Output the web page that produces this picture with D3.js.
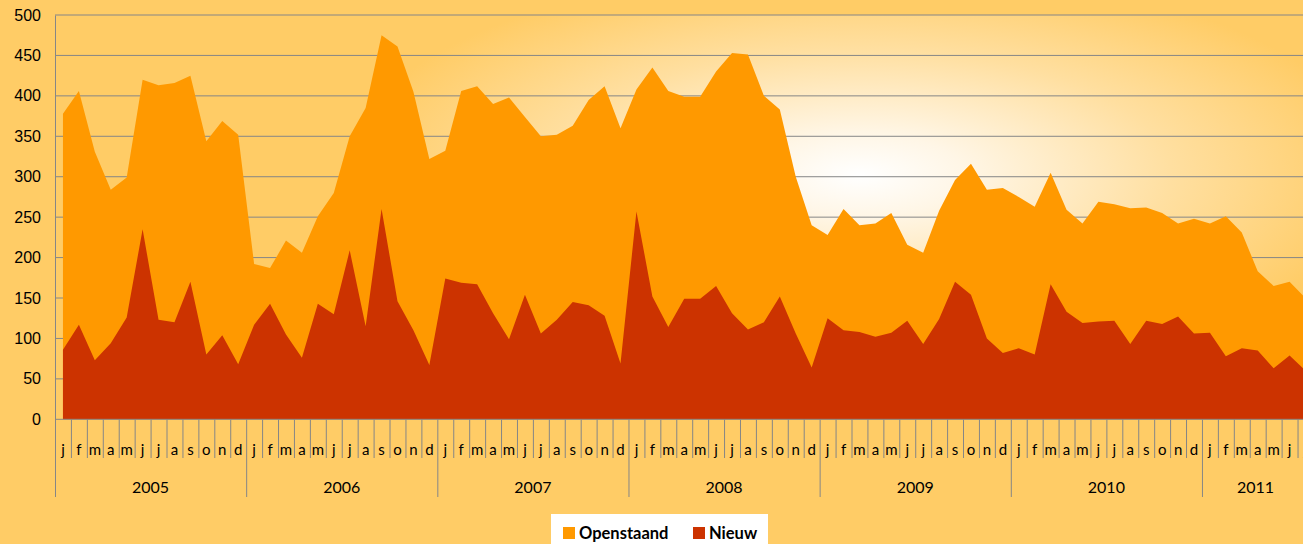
<!DOCTYPE html>
<html>
<head>
<meta charset="utf-8">
<script src="https://cdn.jsdelivr.net/npm/d3@7"></script>
<style>
  body { margin: 0; background: #FFCC66; overflow: hidden; }
  svg { display: block; font-family: Lato, "DejaVu Sans", sans-serif; }
</style>
</head>
<body>
<div id="chart"></div>
<script>
// data
const monthLetters = ["j","f","m","a","m","j","j","a","s","o","n","d"];
const years = ["2005","2006","2007","2008","2009","2010","2011"];
const yTicks = [0, 50, 100, 150, 200, 250, 300, 350, 400, 450, 500];

const openstaand = [
  378, 406, 331, 284, 299, 420, 413, 416, 425, 344, 369, 352,   // 2005
  192, 187, 221, 206, 251, 280, 350, 385, 475, 461, 405, 322,   // 2006
  332, 406, 412, 390, 398, 374, 350, 352, 363, 395, 412, 360,   // 2007
  408, 435, 406, 399, 399, 430, 453, 451, 400, 383, 300, 240,   // 2008
  228, 260, 240, 242, 255, 216, 206, 258, 296, 316, 284, 286,   // 2009
  275, 263, 305, 259, 242, 269, 266, 261, 262, 255, 242, 248,   // 2010
  242, 251, 231, 183, 165, 170, 150                              // 2011
];
const nieuw = [
  86, 117, 73, 94, 126, 235, 123, 120, 170, 80, 104, 68,
  117, 143, 105, 76, 143, 130, 209, 115, 260, 146, 110, 67,
  174, 169, 167, 131, 99, 154, 106, 123, 145, 141, 128, 69,
  257, 152, 114, 149, 149, 165, 131, 111, 120, 152, 106, 64,
  125, 110, 108, 102, 107, 122, 93, 124, 170, 154, 100, 82,
  88, 80, 167, 133, 119, 121, 122, 93, 122, 118, 127, 106,
  107, 78, 88, 85, 63, 79, 60
];

const series = [
  { name: "Openstaand", values: openstaand, color: "#FF9900" },
  { name: "Nieuw", values: nieuw, color: "#CC3300" }
];

// build month categories (one per data point)
let cats = [];
for (let i = 0; i < openstaand.length; i++) {
  cats.push({ i: i, month: monthLetters[i % 12], year: years[Math.floor(i / 12)] });
}

//sizes
const width = 1303, height = 544;
const margin = { left: 55, top: 15 };
const cellW = 15.93;
const plotW = cellW * cats.length;
const plotBottom = 419.3;

let svg = d3.select("#chart").append("svg")
            .attr("width", width)
            .attr("height", height);

// scales
let x = d3.scaleBand()
          .domain(cats.map(d => d.i))
          .range([margin.left, margin.left + plotW])
          .padding(0);
let y = d3.scaleLinear()
          .domain([0, 500])
          .range([plotBottom, margin.top]);

//background gradient of the plot area
let defs = svg.append("defs");
let grad = defs.append("radialGradient")
               .attr("id", "bg")
               .attr("gradientUnits", "userSpaceOnUse")
               .attr("cx", 0).attr("cy", 0).attr("r", 1)
               .attr("gradientTransform", "translate(860,175) scale(520,210)");
grad.append("stop").attr("offset", 0).attr("stop-color", "#FFFFFF");
grad.append("stop").attr("offset", 0.2).attr("stop-color", "#FFF6E6");
grad.append("stop").attr("offset", 0.6).attr("stop-color", "#FFDFA0");
grad.append("stop").attr("offset", 1).attr("stop-color", "#FFCC66");

svg.append("rect")
   .attr("x", margin.left)
   .attr("y", margin.top)
   .attr("width", plotW)
   .attr("height", plotBottom - margin.top)
   .attr("fill", "url(#bg)");

//gridlines
svg.append("g")
   .selectAll("line")
   .data(yTicks.slice(1))
   .enter()
   .append("line")
   .attr("x1", margin.left).attr("x2", margin.left + plotW)
   .attr("y1", d => y(d)).attr("y2", d => y(d))
   .style("stroke", "#868686")
   .style("stroke-width", 1);

//areas (Openstaand behind, Nieuw in front)
const cx = d => x(d.i) + x.bandwidth() / 2;
series.forEach(function(s) {
  let area = d3.area()
               .x(d => cx(d))
               .y0(y(0))
               .y1(d => y(s.values[d.i]));
  svg.append("path")
     .datum(cats)
     .attr("d", area)
     .attr("fill", s.color);
});

//y axis
let yAxis = d3.axisLeft(y).tickValues(yTicks).tickSize(0).tickPadding(14);
let gy = svg.append("g")
            .attr("transform", `translate(${margin.left},0)`)
            .call(yAxis);
gy.select(".domain").style("stroke", "#868686");
gy.selectAll("text")
  .style("font-size", "16px")
  .style("fill", "#000");

//x axis line
svg.append("line")
   .attr("x1", margin.left).attr("x2", margin.left + plotW)
   .attr("y1", plotBottom).attr("y2", plotBottom)
   .style("stroke", "#868686");

//month separators and labels
let mg = svg.append("g");
mg.selectAll("line")
  .data(cats)
  .enter()
  .append("line")
  .attr("x1", d => x(d.i) + 0.5).attr("x2", d => x(d.i) + 0.5)
  .attr("y1", plotBottom)
  .attr("y2", d => d.i % 12 === 0 ? 497 : 458)
  .style("stroke", "#868686");
mg.selectAll("text")
  .data(cats)
  .enter()
  .append("text")
  .attr("x", d => cx(d))
  .attr("y", 455)
  .style("text-anchor", "middle")
  .style("font-size", "15px")
  .text(d => d.month);

//year labels (2011 is centred on the visible part)
let yearData = years.map(function(yr) {
  let inYear = cats.filter(d => d.year === yr);
  return { year: yr, x0: x(inYear[0].i), x1: x(inYear[inYear.length - 1].i) + x.bandwidth() };
});
svg.append("g")
   .selectAll("text")
   .data(yearData)
   .enter()
   .append("text")
   .attr("x", d => d.year === "2011" ? (d.x0 + Math.min(d.x1, width)) / 2 + 3 : (d.x0 + d.x1) / 2)
   .attr("y", 493)
   .style("text-anchor", "middle")
   .style("font-size", "16px")
   .text(d => d.year);

//legend
let legend = svg.append("g");
legend.append("rect")
      .attr("x", 551).attr("y", 514)
      .attr("width", 217).attr("height", 40)
      .attr("fill", "#FFFFFF");
const legendX = [563, 693];
series.forEach(function(s, k) {
  legend.append("rect")
        .attr("x", legendX[k]).attr("y", 527)
        .attr("width", 12).attr("height", 12)
        .attr("fill", s.color);
  legend.append("text")
        .attr("x", legendX[k] + 16)
        .attr("y", 539)
        .style("font-size", "16.5px")
        .style("font-weight", "bold")
        .text(s.name);
});
</script>
</body>
</html>
